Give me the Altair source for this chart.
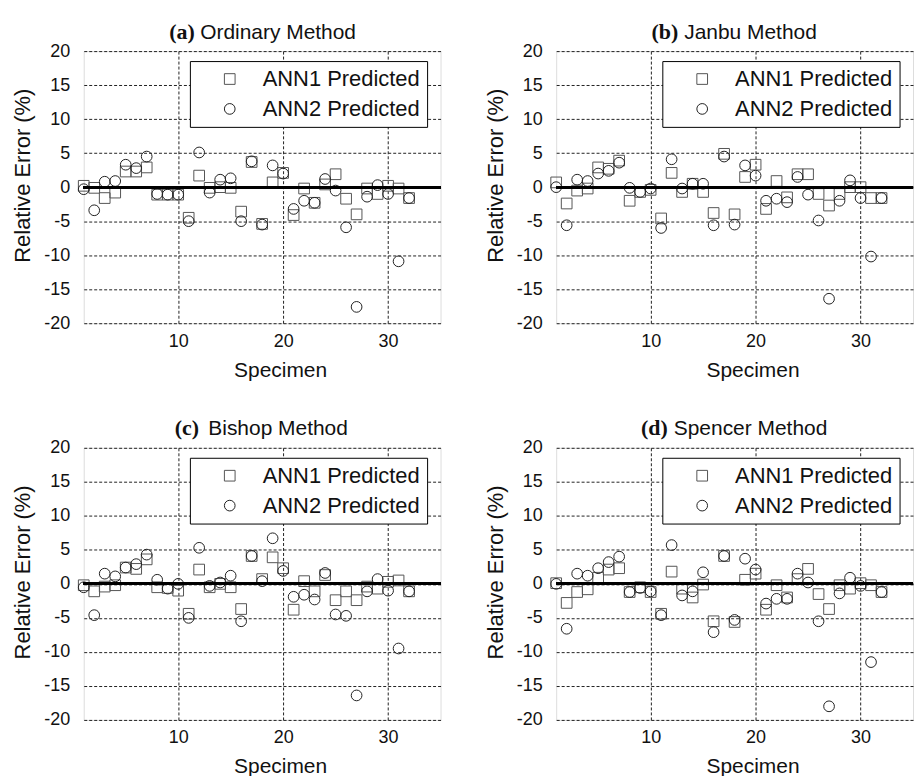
import altair as alt
import pandas as pd

SPECIMEN = list(range(1, 33))
SERIES = ["ANN1 Predicted", "ANN2 Predicted"]
Y_TICKS = [-20, -15, -10, -5, 0, 5, 10, 15, 20]
X_TICKS = [10, 20, 30]

ORD_ANN1 = [0.2, -0.1, -1.6, -0.8, 2.3, 2.3, 2.9, -1.1, -1.1, -1.1, -4.5, 1.7, -0.1, 0.0, -0.1, -3.6,
            3.7, -5.4, 0.7, 2.1, -4.1, -0.2, -2.3, 0.4, 1.9, -1.7, -4.0, -0.2, -1.0, 0.2, -0.2, -1.6]
ORD_ANN2 = [-0.3, -3.4, 0.8, 0.9, 3.3, 2.8, 4.5, -1.0, -1.1, -1.1, -5.0, 5.1, -0.8, 1.1, 1.3, -5.0,
            3.8, -5.5, 3.2, 2.0, -3.2, -2.0, -2.3, 1.2, -0.5, -5.9, -17.6, -1.4, 0.3, -1.0, -10.9, -1.6]

JAN_ANN1 = [0.7, -2.4, -0.5, -0.2, 2.9, 2.7, 3.9, -2.0, -0.7, -0.4, -4.6, 2.1, -0.7, 0.5, -0.7, -3.8,
            4.9, -4.0, 1.5, 3.3, -3.2, 0.9, -1.5, 1.9, 1.9, -1.0, -2.7, -1.0, 0.0, 0.0, -1.6, -1.6]
JAN_ANN2 = [0.0, -5.6, 1.1, 0.9, 2.0, 2.4, 3.6, -0.1, -0.7, -0.2, -6.0, 4.1, -0.2, 0.5, 0.5, -5.6,
            4.5, -5.5, 3.2, 1.7, -2.0, -1.7, -2.2, 1.5, -1.1, -4.9, -16.4, -2.0, 1.0, -1.6, -10.2, -1.6]

BIS_ANN1 = [-0.2, -1.1, -0.4, -0.2, 2.4, 2.2, 3.6, -0.5, -0.6, -1.0, -4.4, 2.1, -0.5, 0.0, -0.5, -3.7,
            4.1, 0.7, 3.9, 2.3, -3.8, 0.4, -1.1, 1.3, -2.4, -1.1, -2.4, -0.4, -0.7, 0.3, 0.5, -1.1]
BIS_ANN2 = [-0.5, -4.6, 1.5, 1.1, 2.4, 2.9, 4.3, 0.6, -0.7, 0.0, -5.0, 5.3, -0.3, 0.2, 1.2, -5.5,
            4.1, 0.4, 6.7, 1.9, -1.9, -1.6, -2.3, 1.6, -4.5, -4.7, -16.4, -1.1, 0.7, -1.0, -9.5, -1.1]

SPE_ANN1 = [0.1, -2.8, -1.2, -0.8, 0.9, 2.1, 2.3, -1.2, -0.5, -1.2, -4.4, 1.8, -0.7, -2.0, -0.1, -5.5,
            4.1, -5.6, 0.6, 1.5, -3.8, -0.2, -2.0, 0.7, 2.2, -1.5, -3.7, -0.2, -0.7, 0.1, -0.2, -1.2]
SPE_ANN2 = [0.0, -6.6, 1.5, 1.2, 2.3, 3.2, 4.0, -1.2, -0.6, -1.1, -4.6, 5.7, -1.7, -1.1, 1.7, -7.1,
            4.1, -5.3, 3.7, 2.1, -2.9, -2.2, -2.2, 1.5, 0.2, -5.5, -18.0, -1.4, 0.9, -0.3, -11.5, -1.2]

W, H = 358, 273
FONT = "Liberation Sans"


def panel(letter, method, ann1, ann2, lab_cx, meth_cx):
    df = pd.DataFrame({
        "Specimen": SPECIMEN + SPECIMEN,
        "Error": ann1 + ann2,
        "Series": [SERIES[0]] * len(ann1) + [SERIES[1]] * len(ann2),
    })
    xs = alt.Scale(domain=[1, 35], nice=False, zero=False)
    ys = alt.Scale(domain=[-20, 20], nice=False, zero=False)
    leg = alt.Legend(
        title=None, orient="none", legendX=106.5, legendY=10,
        strokeColor="black", fillColor="white", padding=7,
        symbolSize=115, symbolStrokeWidth=1, symbolOffset=22,
        labelOffset=22, labelFontSize=22, labelFont=FONT, labelColor="#111",
        labelExpr="datum.label + '\u2002'",
        rowPadding=8, labelLimit=0,
    )
    pts = alt.Chart(df).mark_point(size=115, strokeWidth=1, opacity=1, filled=False).encode(
        x=alt.X("Specimen:Q", scale=xs, axis=alt.Axis(
            values=X_TICKS, grid=True, gridDash=[3, 2], gridColor="#222", gridWidth=1,
            domain=False, ticks=False, tickSize=0, labelFontSize=18, labelFont=FONT,
            labelColor="#111", labelPadding=9, labelExpr="'' + datum.value",
            title="Specimen", titleFont=FONT, titleFontSize=21, titleFontWeight="normal",
            titleColor="#111", titleX=197, titleY=53, titleBaseline="alphabetic",
            titleAlign="center")),
        y=alt.Y("Error:Q", scale=ys, axis=alt.Axis(
            values=Y_TICKS, grid=True, gridDash=[3, 2], gridColor="#222", gridWidth=1,
            domain=False, ticks=False, tickSize=0, labelFontSize=18, labelFont=FONT,
            labelColor="#111", labelPadding=14, labelExpr="'' + datum.value",
            title="Relative Error (%)", titleFont=FONT, titleFontSize=22,
            titleFontWeight="normal", titleColor="#111", titleAngle=270,
            titleX=-49, titleY=124.5, titleBaseline="bottom", titleAlign="center")),
        shape=alt.Shape("Series:N", scale=alt.Scale(domain=SERIES, range=["square", "circle"]),
                        legend=leg),
        color=alt.Color("Series:N", scale=alt.Scale(domain=SERIES, range=["#555555", "#222222"]),
                        legend=leg),
    )
    zero = alt.Chart(df).mark_rule(color="black", strokeWidth=2.5).encode(
        x=alt.XDatum(1, type="quantitative", scale=xs, axis=alt.Axis(
            orient="top", labels=False, ticks=False, domain=False, grid=False,
            title=method, titleFont=FONT, titleFontSize=21, titleFontWeight="normal",
            titleColor="#111", titleX=meth_cx, titleY=-13, titleBaseline="alphabetic",
            titleAlign="center", titleAngle=0)),
        x2=alt.X2Datum(35),
        y=alt.YDatum(0, type="quantitative", scale=ys, axis=alt.Axis(
            orient="right", labels=False, ticks=False, domain=False, grid=False,
            title=f"({letter})", titleFont="Liberation Serif", titleFontSize=22,
            titleFontWeight="bold", titleColor="#111", titleX=lab_cx - W, titleY=-13,
            titleBaseline="alphabetic", titleAlign="center", titleAngle=0)),
    )
    return alt.layer(pts, zero).resolve_scale(x="independent", y="independent").properties(
        width=W, height=H)


a = panel("a", "Ordinary Method", ORD_ANN1, ORD_ANN2, 98, 194.5)
b = panel("b", "Janbu Method", JAN_ANN1, JAN_ANN2, 108.5, 194.5)
c = panel("c", "Bishop Method", BIS_ANN1, BIS_ANN2, 103, 194.5)
d = panel("d", "Spencer Method", SPE_ANN1, SPE_ANN2, 98, 194.5)

chart = alt.concat(
    a, b, c, d, columns=2, spacing=alt.RowColnumber(column=116, row=125), bounds="flush"
).resolve_scale(shape="independent", color="independent").properties(
    padding={"left": 11, "top": 18, "right": 0, "bottom": 0}
).configure_view(stroke="black", strokeWidth=1.5).configure(font=FONT, background="white")

chart.save("out.html", embed_options={"renderer": "svg", "actions": False})
